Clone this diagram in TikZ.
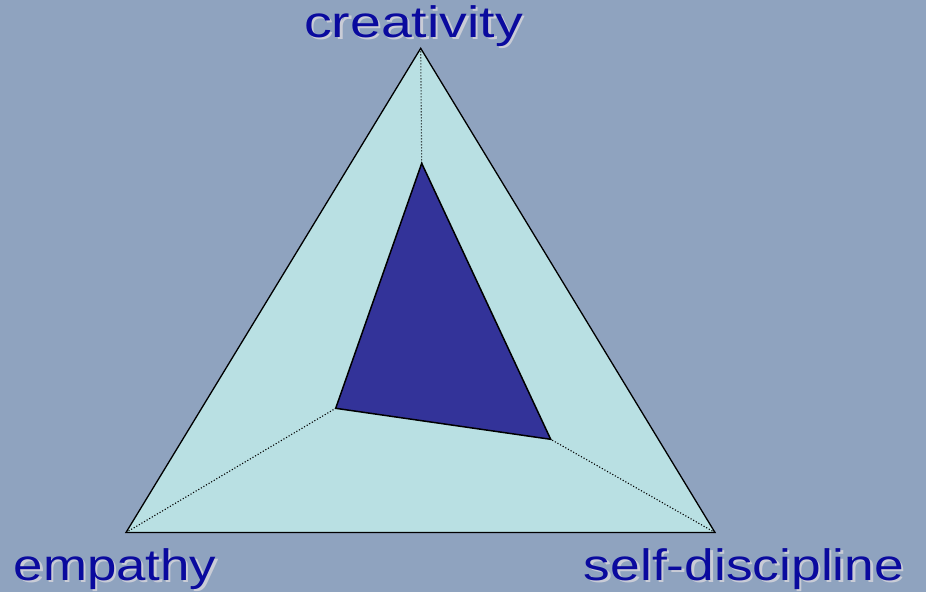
\documentclass[tikz,border=0pt]{standalone}
\usepackage{fontspec}
\setmainfont{Liberation Sans}
\definecolor{bgblue}{HTML}{8FA3BF}
\definecolor{outerfill}{HTML}{B9E0E3}
\definecolor{innerfill}{HTML}{333399}
\definecolor{labelblue}{HTML}{0A0A9E}
\definecolor{shadowgray}{HTML}{C9CCD6}
\newcommand{\shadowtext}[1]{\rlap{\raisebox{-2pt}{\kern2pt\textcolor{shadowgray}{#1}}}#1}
\tikzset{
  lbl/.style={anchor=base, inner sep=0pt, xscale=1.2, text=labelblue, font=\fontsize{44}{50}\selectfont},
  outertri/.style={draw=black, line width=1.3pt, fill=outerfill, line join=miter},
  innertri/.style={draw=black, line width=1.5pt, fill=innerfill, line join=miter},
  spoke/.style={draw=black, line width=1.1pt, dash pattern=on 1.1pt off 1.9pt}
}
\begin{document}
\begin{tikzpicture}[x=1pt,y=-1pt]
\fill[bgblue] (0,0) rectangle (926,592);
\useasboundingbox (0,0) rectangle (926,592);
% outer vertices
\coordinate (A) at (420.7,48.3);
\coordinate (B) at (126,532.5);
\coordinate (C) at (715,532.5);
% inner vertices
\coordinate (a) at (421.7,163.3);
\coordinate (b) at (335.7,408.3);
\coordinate (c) at (550.7,439.3);
\draw[outertri] (A) -- (B) -- (C) -- cycle;
\draw[spoke] (A) -- (a);
\draw[spoke] (B) -- (b);
\draw[spoke] (C) -- (c);
\draw[innertri] (a) -- (b) -- (c) -- cycle;
% labels with shadows
\node[lbl, xscale=1.05] (creat) at (413.5,37) {\shadowtext{creativity}};
\node[lbl] (emp) at (115,580) {\shadowtext{empathy}};
\node[lbl, xscale=1.01] (selfd) at (744,580) {\shadowtext{self-discipline}};
\end{tikzpicture}
\end{document}
